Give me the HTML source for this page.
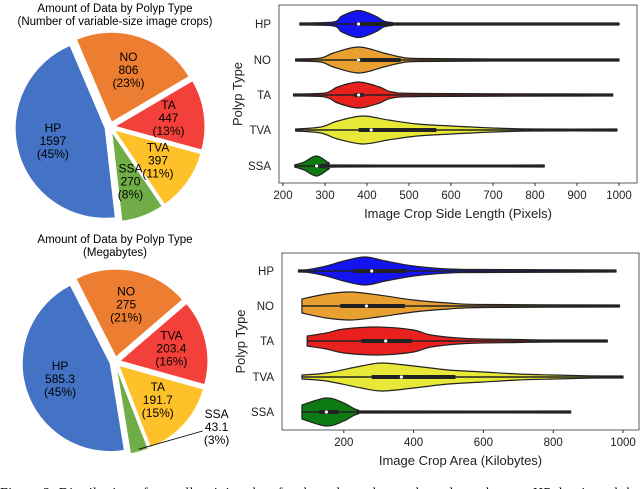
<!DOCTYPE html>
<html><head><meta charset="utf-8"><style>
body{margin:0;background:#fff;width:640px;height:489px;overflow:hidden;font-family:"Liberation Sans",sans-serif}
svg{position:absolute;left:0;top:0}
</style></head><body>
<svg id="s" width="640" height="489" font-family="Liberation Sans, sans-serif">
<text x="115" y="12" font-size="11.5" text-anchor="middle">Amount of Data by Polyp Type</text>
<text x="115" y="25" font-size="11.5" text-anchor="middle">(Number of variable-size image crops)</text>
<text x="115" y="243" font-size="11.5" text-anchor="middle">Amount of Data by Polyp Type</text>
<text x="115" y="256" font-size="11.5" text-anchor="middle">(Megabytes)</text>
<g id="p1"></g><g id="p2"></g><g id="v1"></g><g id="v2"></g>
<text x="0" y="497" font-family="Liberation Serif, serif" font-size="14" textLength="640" lengthAdjust="spacing">Figure 2: Distribution of overall training data for the polyp subtypes by polyp subtypes. HP dominated the</text>
</svg>
<script>
const NS="http://www.w3.org/2000/svg";
function E(p,t,a){const e=document.createElementNS(NS,t);for(const k in a)e.setAttribute(k,a[k]);p.appendChild(e);return e;}
// pie data
const pie1Labels=["NO","TA","TVA","SSA","HP"];
const pie1Values=[806,447,397,270,1597];
const pie1Pct=["23%","13%","11%","8%","45%"];
const pie2Labels=["NO","TVA","TA","SSA","HP"];
const pie2Values=[275,203.4,191.7,43.1,585.3];
const pie2Pct=["21%","16%","15%","3%","45%"];
const colorMap={HP:"#4472C4",NO:"#ED7D31",SSA:"#70AD47"};
function pie(g,labels,vals,pcts,cx,cy,r,start,cols){
  const tot=vals.reduce((a,b)=>a+b,0);let a=start*Math.PI/180;
  labels.forEach((l,i)=>{
    const sw=vals[i]/tot*2*Math.PI,mid=a+sw/2,ex=5;
    const ox=cx+ex*Math.sin(mid),oy=cy-ex*Math.cos(mid);
    const x1=ox+r*Math.sin(a),y1=oy-r*Math.cos(a),x2=ox+r*Math.sin(a+sw),y2=oy-r*Math.cos(a+sw);
    const p=E(g,"path",{d:`M${ox},${oy}L${x1},${y1}A${r},${r} 0 ${sw>Math.PI?1:0} 1 ${x2},${y2}Z`,fill:cols[l],stroke:"#fff","stroke-width":1});
    
    
    let lr=r*0.6,lx=ox+lr*Math.sin(mid),ly=oy-lr*Math.cos(mid);
    if(vals[i]/tot<0.05){lx=cx+r*0.95+12;ly=cy+r*0.75;
      const ln=E(g,"path",{d:`M${ox+r*0.97*Math.sin(mid)},${oy-r*0.97*Math.cos(mid)}L${lx-8},${ly+3}`,stroke:"#000",fill:"none","stroke-width":0.8});
      
      
      lx+=6;}
    const t=E(g,"text",{x:lx,y:ly-10,"font-size":12,"text-anchor":"middle"});
    
    
    [l,String(vals[i]),"("+pcts[i]+")"].forEach((s,j)=>{const ts=E(t,"tspan",{x:lx,dy:j?13:0});ts.textContent=s;});
    a+=sw;});
}
pie(document.getElementById("p1"),pie1Labels,pie1Values,pie1Pct,110,127,90,-23,{...colorMap,TA:"#F4403A",TVA:"#FFC12A"});
pie(document.getElementById("p2"),pie2Labels,pie2Values,pie2Pct,115,362,88,-27,{...colorMap,TVA:"#F4403A",TA:"#FFC12A"});

// violin data
const cats=["HP","NO","TA","TVA","SSA"];
const vcol={HP:"#1414F0",NO:"#E8A030",TA:"#E8201E",TVA:"#E8E838",SSA:"#0E7A12"};
const v1Min=[240,230,225,230,228],v1Max=[1000,1000,985,995,822];
const v1Med=[380,380,380,410,280],v1Q1=[375,378,370,380,275],v1Q3=[445,480,392,565,285];
const v1DX=[[240,320,340,380,420,440,460,500,1000],[230,290,320,380,440,480,520,700,1000],[225,300,330,380,430,460,540,985],[230,290,330,390,450,520,600,700,800,995],[228,250,280,310,330,822]];
const v1DW=[[1,2,8,13.5,8,3,1.5,1,1],[1,2,7,13,7,3,1.5,1,1],[1,2,8,13,8,3,1.5,1],[1,3,9,14,10,6,4,2,1,1],[1,4,10,3,1,1]];
const v2Min=[70,80,95,80,80],v2Max=[980,990,955,1000,850];
const v2Med=[280,265,320,365,150],v2Q1=[230,190,250,280,130],v2Q3=[380,375,395,520,185];
const v2DX=[[70,100,150,200,260,320,400,500,600,980],[80,150,220,300,400,500,600,990],[95,150,200,300,400,450,550,700,800,955],[80,150,250,310,400,500,600,700,800,900,1000],[80,150,200,240,300,850]];
const v2DW=[[1,1.5,5,10,14,10,5,2,1.5,1],[7,12,14,11,6,3,1.5,1],[5,8,12,14,11,6,2.5,1.5,1,1],[2,4,11,14,11,7,5,3,2,1.2,1],[7,14,9,2,1,1]];
const ticks1=[200,300,400,500,600,700,800,900,1000],ticks2=[200,400,600,800,1000];
function smooth(pts){let d=`M${pts[0][0]},${pts[0][1]}`;
  for(let i=0;i<pts.length-1;i++){const p0=pts[Math.max(0,i-1)],p1=pts[i],p2=pts[i+1],p3=pts[Math.min(pts.length-1,i+2)];
    d+=`C${p1[0]+(p2[0]-p0[0])/6},${p1[1]+(p2[1]-p0[1])/6} ${p2[0]-(p3[0]-p1[0])/6},${p2[1]-(p3[1]-p1[1])/6} ${p2[0]},${p2[1]}`;}
  return d;}
function violin(g,box,xs,ys,ticks,xlabel,mn,mx,med,q1,q3,dx,dw){
  const r=E(g,"rect",{x:box[0],y:box[1],width:box[2]-box[0],height:box[3]-box[1],fill:"none",stroke:"#333","stroke-width":0.8});
  
  ticks.forEach(v=>{const t=E(g,"text",{x:xs(v),y:box[3]+16,"font-size":11.5,"text-anchor":"middle",fill:"#222"});t.textContent=v;
    
    const l=E(g,"line",{x1:xs(v),x2:xs(v),y1:box[3],y2:box[3]+3,stroke:"#333"});});
  const xl=E(g,"text",{x:(box[0]+box[2])/2,y:box[3]+35,"font-size":13,"text-anchor":"middle",fill:"#222"});xl.textContent=xlabel;
  
  const yl=E(g,"text",{transform:`translate(${box[0]-37},${(box[1]+box[3])/2}) rotate(-90)`,"font-size":13,"text-anchor":"middle",fill:"#222"});yl.textContent="Polyp Type";
  
  cats.forEach((c,i)=>{const y=ys[i];
    const t=E(g,"text",{x:box[0]-8,y:y+4,"font-size":11.5,"text-anchor":"end",fill:"#222"});t.textContent=c;
    
    const top=dx[i].map((v,j)=>[xs(v),y-dw[i][j]]),bot=dx[i].map((v,j)=>[xs(v),y+dw[i][j]]).reverse();
    const d=smooth(top)+smooth(bot).replace(/^M/,"L")+"Z";
    const p=E(g,"path",{d:d,fill:vcol[c],stroke:"#222","stroke-width":1.2,"stroke-linejoin":"round"});
    
    const w=E(g,"line",{x1:xs(mn[i]),x2:xs(mx[i]),y1:y,y2:y,stroke:"#222","stroke-width":1.4});
    
    const b=E(g,"line",{x1:xs(q1[i]),x2:xs(q3[i]),y1:y,y2:y,stroke:"#222","stroke-width":4});
    
    const m=E(g,"circle",{cx:xs(med[i]),cy:y,r:1.6,fill:"#fff"});
    
  });
}
violin(document.getElementById("v1"),[279,5,637,183],v=>283+(v-200)*0.42,[24,60,95,130,166],ticks1,"Image Crop Side Length (Pixels)",v1Min,v1Max,v1Med,v1Q1,v1Q3,v1DX,v1DW);
violin(document.getElementById("v2"),[282,253,639,430],v=>274+v*0.349,[271,306,341,377,412],ticks2,"Image Crop Area (Kilobytes)",v2Min,v2Max,v2Med,v2Q1,v2Q3,v2DX,v2DW);
</script>
</body></html>
